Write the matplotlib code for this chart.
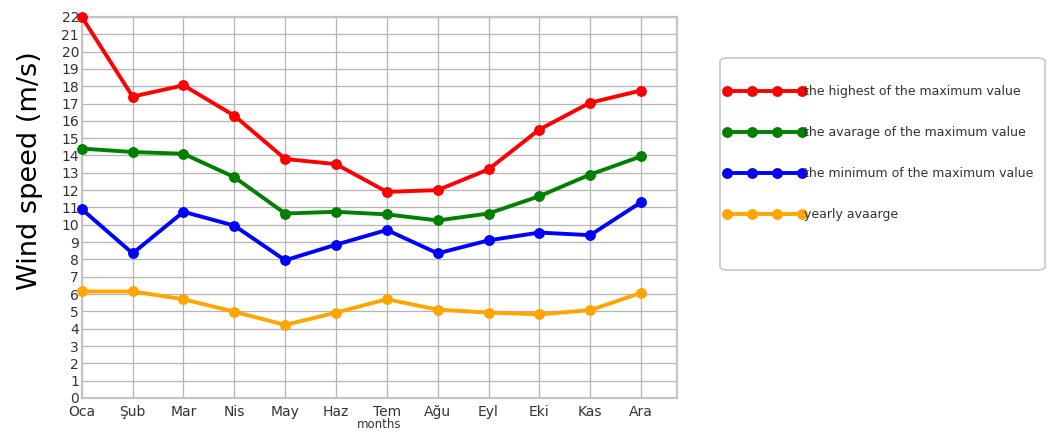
import matplotlib.pyplot as plt
from matplotlib.patches import FancyBboxPatch

# month labels (Turkish abbreviations)
months = ['Oca', 'Şub', 'Mar', 'Nis', 'May', 'Haz', 'Tem', 'Ağu', 'Eyl', 'Eki', 'Kas', 'Ara']

# wind speed values (m/s)
highest_max = [22.0, 17.4, 18.05, 16.3, 13.8, 13.5, 11.9, 12.0, 13.2, 15.5, 17.05, 17.75]
average_max = [14.4, 14.2, 14.1, 12.75, 10.65, 10.75, 10.6, 10.25, 10.65, 11.65, 12.9, 13.95]
minimum_max = [10.9, 8.35, 10.75, 9.95, 7.95, 8.85, 9.7, 8.35, 9.1, 9.55, 9.4, 11.3]
yearly_avg = [6.15, 6.15, 5.7, 4.98, 4.22, 4.93, 5.7, 5.1, 4.93, 4.83, 5.07, 6.07]

labels = ['the highest of the maximum value', 'the avarage of the maximum value',
          'the minimum of the maximum value', 'yearly avaarge']
colors = ['#ff0000', '#008000', '#0000ff', '#ffa500']

fig = plt.figure(figsize=(10.49, 4.34), dpi=100)
ax = fig.add_axes([0.078, 0.083, 0.567, 0.878])

x = range(len(months))
handles = []
for vals, c, lab in zip([highest_max, average_max, minimum_max, yearly_avg], colors, labels):
    h, = ax.plot(x, vals, color=c, linewidth=2.8, marker='o', markersize=6.8,
                 label=lab, zorder=3, clip_on=False)
    handles.append(h)

ax.set_xlim(0, 11.7)
ax.set_ylim(0, 22)
ax.set_yticks(range(0, 23))
ax.set_xticks(list(x))
ax.set_xticklabels(months)
ax.tick_params(axis='both', length=0, labelsize=10, colors='#333333')
ax.tick_params(axis='x', pad=5)
ax.tick_params(axis='y', pad=2)
ax.grid(True, color='#b5b5b5', linewidth=0.9)
ax.set_axisbelow(True)
for s in ax.spines.values():
    s.set_color('#c4c4c4')
    s.set_linewidth(1.6)

ax.set_xlabel('months', fontsize=8.5, color='#333333', labelpad=-1)

fig.text(0.029, 0.608, 'Wind speed (m/s)', rotation=90, fontsize=19.5,
         ha='center', va='center', color='black')

# legend box
box = FancyBboxPatch((720 / 1049, 1 - 270 / 434), 325 / 1049, 212 / 434,
                     boxstyle='round,pad=0,rounding_size=0.008',
                     transform=fig.transFigure, facecolor='white',
                     edgecolor='#c8c8c8', linewidth=1.2)
fig.patches.append(box)

leg = fig.legend(handles=handles, loc='upper left',
                 bbox_to_anchor=(723 / 1049, 1 - 85 / 434),
                 frameon=False, numpoints=4, handlelength=6.6, handletextpad=-0.1,
                 labelspacing=2.25, fontsize=9, borderpad=0, borderaxespad=0)
for t in leg.get_texts():
    t.set_color('#333333')

fig.savefig('out.png', dpi=100)
